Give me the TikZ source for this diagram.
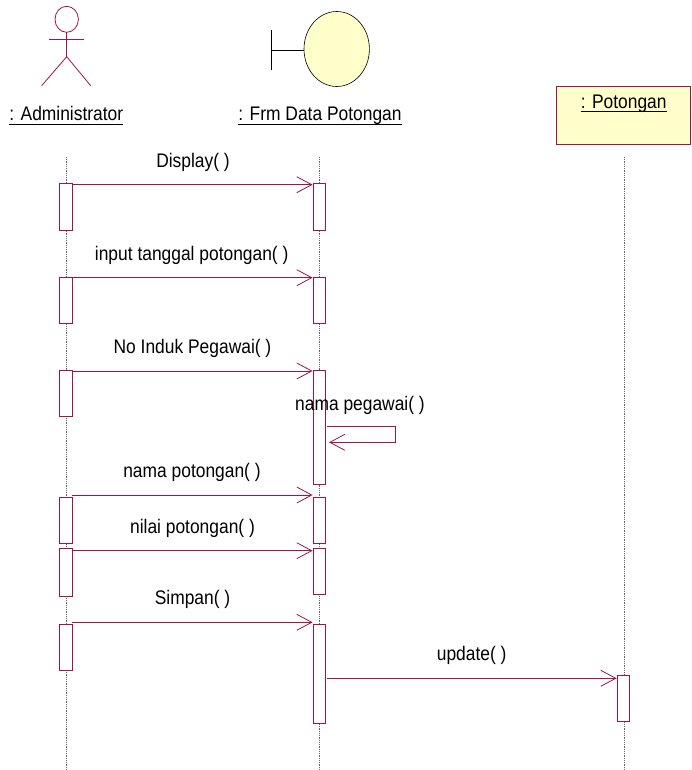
\documentclass[tikz,border=0pt]{standalone}
\usepackage{fontspec}
\setmainfont{Liberation Sans}
\usetikzlibrary{arrows.meta}

\definecolor{roseline}{RGB}{160,20,70}
\definecolor{paleyel}{RGB}{255,255,204}

\begin{document}
\begin{tikzpicture}[x=1pt,y=-1pt,
  lbl/.style={font=\fontsize{17.4}{20}\selectfont,inner sep=0,anchor=base,yscale=1.13,transform shape},
  act/.style={draw=roseline,fill=white,line width=0.9pt,minimum width=12.5pt,inner sep=0,anchor=north},
  msg/.style={draw=roseline,line width=0.8pt,-{Straight Barb[length=15pt,width=16pt]}},
  life/.style={draw=black!60,line width=0.7pt,dash pattern=on 1pt off 0.8pt},
  uline/.style={line width=0.8pt}]
\useasboundingbox (0,0) rectangle (691,770);
\draw[roseline,line width=0.8pt] (66.7,19.3) ellipse [x radius=11.7pt,y radius=13pt];
\draw[roseline,line width=0.8pt] (66.7,32.3) -- (66.7,56.7);
\draw[roseline,line width=0.8pt] (49,39) -- (84,39);
\draw[roseline,line width=0.8pt] (41.7,85.7) -- (66.7,56.7) -- (90.7,85.7);
\draw[line width=0.8pt] (271.7,30) -- (271.7,70);
\draw[line width=0.8pt] (271.7,50) -- (304,50);
\draw[line width=0.6pt,fill=paleyel] (336.7,49) ellipse [x radius=32.7pt,y radius=37.5pt];
\draw[roseline,line width=0.9pt,fill=paleyel] (556,86) rectangle (690.7,144);
\node[lbl] (hAdm) at (66.3,120.7) {: Administrator};
\node[lbl] (hFrm) at (320,120.7) {: Frm Data Potongan};
\node[lbl] (hPot) at (623.7,109) {: Potongan};
\draw[uline] ([yshift=-3.4pt]hAdm.base west) -- ([yshift=-3.4pt]hAdm.base east);
\draw[uline] ([yshift=-3.4pt]hFrm.base west) -- ([yshift=-3.4pt]hFrm.base east);
\draw[uline] ([yshift=-2.8pt]hPot.base west) -- ([yshift=-2.8pt]hPot.base east);
\draw[life] (66,157) -- (66,770);
\draw[life] (319.5,157) -- (319.5,770);
\draw[life] (624,157) -- (624,770);
\node[act,minimum height=46.7pt] (a1) at (65.7,183.3) {};
\node[act,minimum height=46.6pt] (a2) at (65.7,276.7) {};
\node[act,minimum height=46pt] (a3) at (65.7,370) {};
\node[act,minimum height=46pt] (a4) at (65.7,497.3) {};
\node[act,minimum height=48.3pt] (a5) at (65.7,547.7) {};
\node[act,minimum height=46pt] (a6) at (65.7,624) {};
\node[act,minimum height=46.7pt] (f1) at (319.3,183.3) {};
\node[act,minimum height=46.6pt] (f2) at (319.3,276.7) {};
\node[act,minimum height=114pt] (f3) at (319.3,370) {};
\node[act,minimum height=46pt] (f4) at (319.3,497.3) {};
\node[act,minimum height=46.3pt] (f5) at (319.3,547.7) {};
\node[act,minimum height=99.3pt] (f6) at (319.3,624) {};
\node[act,minimum height=46pt] (p1) at (623.3,675) {};
\node[lbl] (m1) at (193,167.7) {Display( )};
\node[lbl] (m2) at (191.7,260.7) {input tanggal potongan( )};
\node[lbl] (m3) at (192.5,353.3) {No Induk Pegawai( )};
\node[lbl] (m4) at (360,410) {nama pegawai( )};
\node[lbl] (m5) at (192,477.3) {nama potongan( )};
\node[lbl] (m6) at (192.5,533.3) {nilai potongan( )};
\node[lbl] (m7) at (192.5,604) {Simpan( )};
\node[lbl] (m8) at (471.7,660) {update( )};
\draw[msg] ([yshift=-1.4pt]a1.north east) -- ([yshift=-1.4pt]f1.north west);
\draw[msg] ([yshift=-1pt]a2.north east) -- ([yshift=-1pt]f2.north west);
\draw[msg] ([yshift=-1pt]a3.north east) -- ([yshift=-1pt]f3.north west);
\draw[msg] ([yshift=2.3pt]a4.north east) -- ([yshift=2.3pt]f4.north west);
\draw[msg] ([yshift=-3pt]a5.north east) -- ([yshift=-3pt]f5.north west);
\draw[msg] ([yshift=1.7pt]a6.north east) -- ([yshift=1.7pt]f6.north west);
\coordinate (s1) at (395.7,426.7);
\coordinate (s2) at (395.7,442.3);
\draw[msg] ([xshift=1.4pt]f3.east |- s1) -- (s1) -- (s2) -- ([xshift=3pt]f3.east |- s2);
\coordinate (u1) at (470,678.3);
\draw[msg] ([xshift=1.4pt]f6.east |- u1) -- (p1.west |- u1);
\end{tikzpicture}
\end{document}
